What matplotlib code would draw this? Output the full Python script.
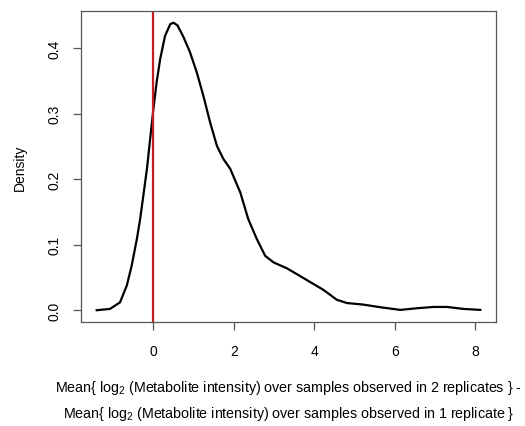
import numpy as np
import matplotlib.pyplot as plt

plt.rcParams['font.family'] = ['Liberation Sans', 'DejaVu Sans']
plt.rcParams['mathtext.fontset'] = 'custom'
plt.rcParams['mathtext.rm'] = 'Liberation Sans'
plt.rcParams['mathtext.it'] = 'Liberation Sans'

# density estimate
diff = [-1.41, -1.08, -0.83, -0.66, -0.54, -0.41, -0.33, -0.25, -0.16, -0.08,
        0.0, 0.08, 0.17, 0.29, 0.42, 0.50, 0.60, 0.75, 0.91, 1.08,
        1.24, 1.41, 1.58, 1.74, 1.91, 2.16, 2.36, 2.57, 2.78, 2.99,
        3.32, 3.57, 3.90, 4.23, 4.56, 4.81, 5.22, 5.64, 6.14, 6.55,
        6.97, 7.30, 7.71, 8.13]
density = [0.0, 0.002, 0.012, 0.038, 0.068, 0.109, 0.139, 0.175, 0.216, 0.262,
           0.307, 0.348, 0.384, 0.419, 0.437, 0.439, 0.435, 0.417, 0.394, 0.363,
           0.328, 0.287, 0.251, 0.231, 0.216, 0.180, 0.139, 0.109, 0.083, 0.073,
           0.064, 0.055, 0.043, 0.031, 0.016, 0.011, 0.0086, 0.0046, 0.0005, 0.003,
           0.005, 0.005, 0.002, 0.0005]
xticks = [0, 2, 4, 6, 8]
yticks = [0.0, 0.1, 0.2, 0.3, 0.4]

fig = plt.figure(figsize=(5.25, 4.27), dpi=100)
ax = fig.add_axes([0.1543, 0.2443, 0.7905, 0.7269])

ax.plot(diff, density, color='black', linewidth=1.6, solid_joinstyle='round')
ax.axvline(0, color='#c81e1e', linewidth=1.6)

ax.set_xlim(-1.80, 8.52)
ax.set_ylim(-0.0175, 0.4565)
ax.set_xticks(xticks)
ax.set_yticks(yticks)
ax.set_xticklabels([str(t) for t in xticks])
ax.set_yticklabels([f'{t:.1f}' for t in yticks], rotation=90, va='center')
ax.tick_params(length=6, width=0.9, color='#555555', labelsize=10)
ax.tick_params(axis='x', pad=10)
ax.tick_params(axis='y', pad=8)

for s in ax.spines.values():
    s.set_color('#555555')
    s.set_linewidth(0.9)

ax.set_ylabel('Density', fontsize=10)
ax.yaxis.set_label_coords(-0.13, 0.5)

# two-line x label, placed like the R margin text
fig.text(0.5495, 0.0913,
         'Mean{ log$_2$ (Metabolite intensity) over samples observed in 2 replicates } -',
         ha='center', va='center', fontsize=10.3)
fig.text(0.5495, 0.0304,
         'Mean{ log$_2$ (Metabolite intensity) over samples observed in 1 replicate }',
         ha='center', va='center', fontsize=10.3)

fig.savefig('out.png', dpi=100)
